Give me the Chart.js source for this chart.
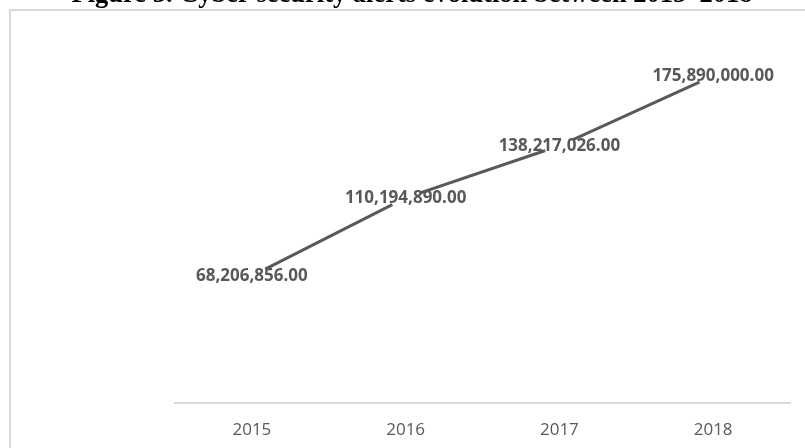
<!DOCTYPE html>
<html lang="en">
<head>
    <meta charset="UTF-8">
    <title>Cyber security alerts evolution</title>
    <script src="https://cdn.jsdelivr.net/npm/chart.js"></script>
    <style>
        body { margin: 0; background: #fff; overflow: hidden; }
        #chart { display: block; }
    </style>
</head>
<body>
    <canvas id="chart" width="805" height="457"></canvas>

    <script>
        // Data
        const years = ['2015', '2016', '2017', '2018'];
        const alerts = [68206856, 110194890, 138217026, 175890000];
        const axisMax = 200000000;
        const figureTitle = 'Figure 3. Cyber security alerts evolution between 2015\u20132018';

        const grey = '#595959';

        // frame + clipped title (the screenshot cuts them off)
        const framePlugin = {
            id: 'frame',
            beforeDraw(chart) {
                const ctx = chart.ctx;
                ctx.save();
                ctx.fillStyle = '#fff';
                ctx.fillRect(0, 0, chart.width, chart.height);
                ctx.strokeStyle = '#d9d9d9';
                ctx.lineWidth = 2;
                ctx.beginPath();
                ctx.moveTo(10, chart.height);
                ctx.lineTo(10, 10);
                ctx.lineTo(chart.width, 10);
                ctx.stroke();
                ctx.restore();
            },
            afterDraw(chart) {
                const ctx = chart.ctx;
                ctx.save();
                ctx.fillStyle = '#000';
                ctx.font = 'bold 26.5px "Liberation Serif", "Times New Roman", serif';
                ctx.textAlign = 'center';
                ctx.textBaseline = 'alphabetic';
                ctx.fillText(figureTitle, 412, 2);
                ctx.restore();
            }
        };

        // value labels centred on each point
        const valueLabels = {
            id: 'valueLabels',
            afterDatasetsDraw(chart) {
                const ctx = chart.ctx;
                const meta = chart.getDatasetMeta(0);
                ctx.save();
                ctx.fillStyle = grey;
                ctx.font = 'bold 17px "Open Sans", sans-serif';
                ctx.textAlign = 'center';
                ctx.textBaseline = 'middle';
                meta.data.forEach((pt, i) => {
                    const txt = alerts[i].toLocaleString('en-US', { minimumFractionDigits: 2, maximumFractionDigits: 2 });
                    ctx.fillText(txt, pt.x, pt.y);
                });
                ctx.restore();
            }
        };

        new Chart(document.getElementById('chart'), {
            type: 'line',
            data: {
                labels: years,
                datasets: [{
                    data: alerts,
                    borderColor: grey,
                    borderWidth: 3,
                    tension: 0,
                    pointRadius: 15,
                    pointBorderWidth: 0,
                    pointBackgroundColor: '#fff',
                    pointBorderColor: '#fff',
                    clip: false
                }]
            },
            options: {
                responsive: false,
                animation: false,
                devicePixelRatio: 1,
                layout: { padding: { left: 175, right: 12, top: 31, bottom: 0 } },
                plugins: {
                    legend: { display: false },
                    tooltip: { enabled: false }
                },
                scales: {
                    x: {
                        offset: true,
                        grid: { display: false, drawTicks: false },
                        border: { display: true, color: '#d9d9d9', width: 2 },
                        ticks: {
                            color: grey,
                            padding: 17,
                            font: { family: '"Open Sans", sans-serif', size: 17 }
                        }
                    },
                    y: {
                        display: false,
                        min: 0,
                        max: axisMax
                    }
                }
            },
            plugins: [framePlugin, valueLabels]
        });
    </script>
</body>
</html>
